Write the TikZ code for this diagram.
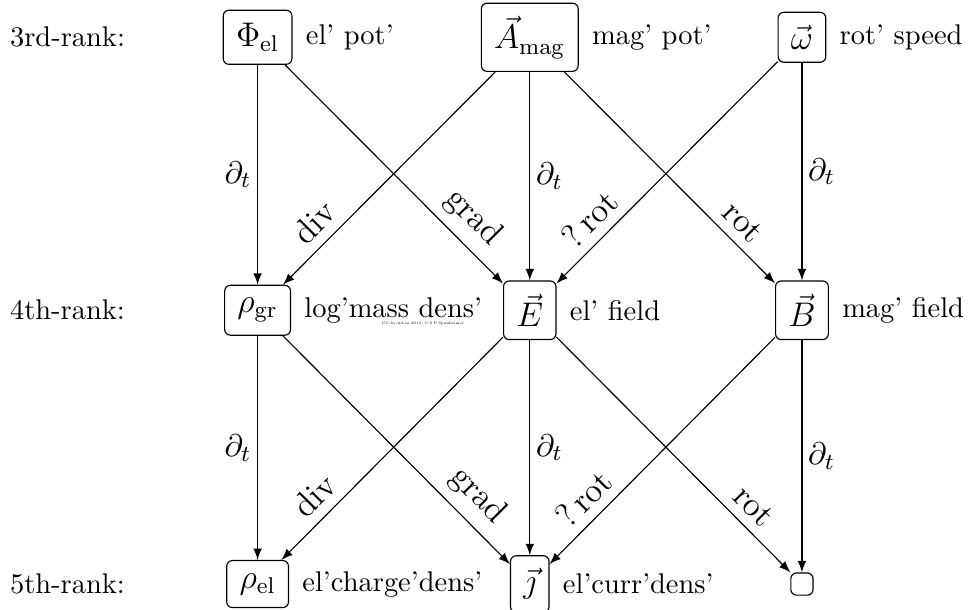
\documentclass[tikz,border=0pt]{standalone}
\usepackage{amsmath, amssymb}
\usepackage{tikz}
\usetikzlibrary{arrows}
\newcommand{\el}{{\rm el}}
\newcommand{\mgn}{{\rm mag}}
\newcommand{\grv}{{\rm gr}}

\begin{document}
\begin{tikzpicture}[box/.style={draw, rounded corners=2pt, font=\large, inner sep=4.5pt},
    txt/.style={anchor=west, inner sep=4.5pt},
    dt/.style={inner sep=2pt, font=\fontsize{11}{13}\selectfont},
    lab/.style={sloped, above, pos=0.78, font=\large}]
    \useasboundingbox (0,0) rectangle (11.95,7.52);
    \node[anchor=west] (rank3) at (0,7.06) {3rd-rank:};
    \node[anchor=west] (rank4) at (0,3.69) {4th-rank:};
    \node[anchor=west] (rank5) at (0,0.31) {5th-rank:};
    %\\
    \node[box] (phi) at (3.18,7.06) {$\Phi_{\el}$};
    \node[txt] (phitxt) at (phi.east) {el' pot'};
    \node[box] (amag) at (6.54,7.06) {$\vec{A}_{\mgn}$};
    \node[txt] (amagtxt) at (amag.east) {mag' pot'};
    \node[box] (omega) at (9.90,7.06) {$\vec{\omega}$};
    \node[txt] (omegatxt) at (omega.east) {rot' speed};
    %\\
    \node[box] (rhogr) at (3.18,3.69) {$\rho_{\grv}$};
    \node[txt] (rhogrtxt) at (rhogr.east) {log'mass dens'};
    \node[font=\fontsize{1.3}{1.5}\selectfont] (cc) at (5.22,3.53) {CC-by-nd-sa 2015, C.S.P.Spanheimer};
    \node[box] (efield) at (6.54,3.69) {$\vec{E}$};
    \node[txt] (efieldtxt) at (efield.east) {el' field};
    \node[box] (bfield) at (9.90,3.69) {$\vec{B}$};
    \node[txt] (bfieldtxt) at (bfield.east) {mag' field};
    %\\
    \node[box] (rhoel) at (3.18,0.31) {$\rho_{\el}$};
    \node[txt] (rhoeltxt) at (rhoel.east) {el'charge'dens'};
    \node[box] (jcurr) at (6.54,0.31) {$\vec{\jmath}$};
    \node[txt] (jcurrtxt) at (jcurr.east) {el'curr'dens'};
    \node[box, inner sep=3.9pt] (nil) at (9.90,0.31) {};
    %\\
    \draw[-latex] (phi) -- node[left, dt]{$\partial_t$} (rhogr);
    \draw[-latex] (phi) -- node[lab]{grad} (efield);
    \draw[-latex] (amag) -- node[lab]{div} (rhogr);
    \draw[-latex] (amag) -- node[right, dt]{$\partial_t$} (efield);
    \draw[-latex] (amag) -- node[lab]{rot} (bfield);
    \draw[-latex] (omega) -- node[lab]{?\,rot} (efield);
    \draw[-latex] (omega) -- node[right, dt]{$\partial_t$} (bfield);
    %\\
    \draw[-latex] (rhogr) -- node[left, dt]{$\partial_t$} (rhoel);
    \draw[-latex] (rhogr) -- node[lab]{grad} (jcurr);
    \draw[-latex] (efield) -- node[lab]{div} (rhoel);
    \draw[-latex] (efield) -- node[right, dt]{$\partial_t$} (jcurr);
    \draw[-latex] (efield) -- node[lab]{rot} (nil);
    \draw[-latex] (bfield) -- node[lab]{?\,rot} (jcurr);
    \draw[-latex] (bfield) -- node[right, dt]{$\partial_t$} (nil);
\end{tikzpicture}
\end{document}
